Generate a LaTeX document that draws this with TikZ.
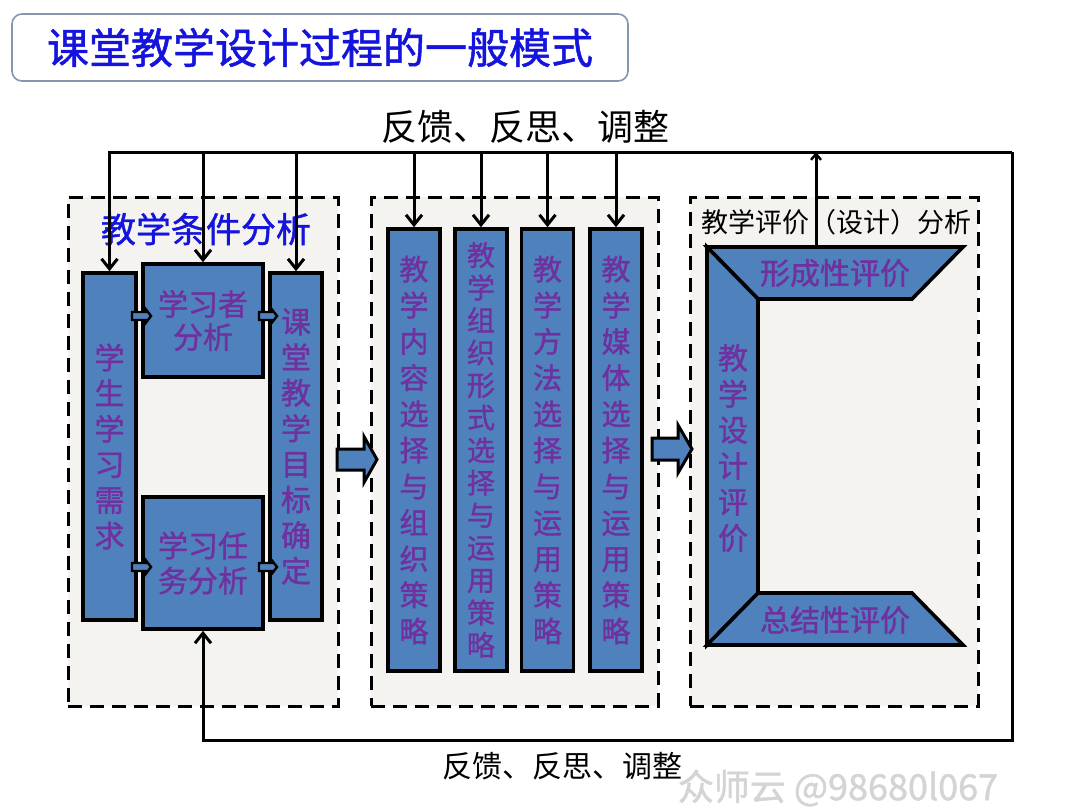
\documentclass[tikz,border=0pt]{standalone}
\usepackage{fontspec}
\setmainfont{Noto Sans CJK SC}
\newfontfamily\hb{Noto Sans CJK SC}[FakeBold=1.2]
\usetikzlibrary{arrows.meta,calc}
\definecolor{boxblue}{HTML}{4F81BD}
\definecolor{txtpurple}{HTML}{7030A0}
\definecolor{titleblue}{HTML}{1414DC}
\definecolor{panelbg}{HTML}{F4F3EF}
\definecolor{titleframe}{HTML}{8496B0}
\definecolor{wmgray}{HTML}{D4D4D4}
% block arrow: x start, x shaft end, x tip, y centre, shaft half-height, head half-height, line width
\newcommand\blockarrow[7]{\draw[draw=black, fill=boxblue, line width=#7, line join=miter]
  (#1,#4-#5) -- (#2,#4-#5) -- (#2,#4-#6) -- (#3,#4) -- (#2,#4+#6) -- (#2,#4+#5) -- (#1,#4+#5) -- cycle;}
\begin{document}
\begin{tikzpicture}[x=0.5pt,y=-0.5pt,
 panel/.style={draw=black, fill=panelbg, line width=1.5pt, dash pattern=on 7pt off 4pt, minimum height=254.5pt, inner sep=0pt},
 bluebox/.style={draw=black, fill=boxblue, line width=1.8pt, inner sep=0pt, align=center, text=txtpurple},
 vleft/.style={font=\hb\fontsize{15}{17.8}\selectfont},
 vmid/.style={font=\hb\fontsize{14.5}{18.1}\selectfont},
 vmidb/.style={font=\hb\fontsize{14}{16.25}\selectfont},
 fb/.style={line width=1.5pt},
 fbarrow/.style={fb, -{Straight Barb[length=5pt,width=8pt,line width=1.5pt]}},
 evframe/.style={draw=black, fill=boxblue, line width=1.8pt}
]
\useasboundingbox (0,0) rectangle (1080,810);
\fill[white] (0,0) rectangle (1080,810);

% title
\node[draw=titleframe, line width=0.8pt, rounded corners=5pt, fill=white, minimum width=308pt, minimum height=33.5pt, inner sep=0pt, font=\hb\fontsize{21}{21}\selectfont, text=titleblue] (title) at (320,47.5) {课堂教学设计过程的一般模式};

% panels
\node[panel, minimum width=135pt] (leftpanel) at (203,451.5) {};
\node[panel, minimum width=143.5pt] (midpanel) at (514.5,451.5) {};
\node[panel, minimum width=144pt] (evalpanel) at (834,451.5) {};

\node[text=titleblue, font=\hb\fontsize{17.5}{17.5}\selectfont] (lefttitle) at (206,229) {教学条件分析};
\node[font=\fontsize{13.5}{13.5}\selectfont] (evaltitle) at (836,222) {教学评价（设计）分析};

% left boxes
\node[bluebox, vleft, minimum width=26.5pt, minimum height=173.5pt] (need) at (109.5,446.5) {学\\生\\学\\习\\需\\求};
\node[bluebox, font=\hb\fontsize{15}{16.5}\selectfont, minimum width=60pt, minimum height=56.5pt] (learner) at (203,320.5) {学习者\\分析};
\node[bluebox, font=\hb\fontsize{15}{17.5}\selectfont, minimum width=60pt, minimum height=66pt] (task) at (203,563) {学习任\\务分析};
\node[bluebox, vleft, minimum width=26pt, minimum height=173.5pt] (goal) at (296,446.5) {课\\堂\\教\\学\\目\\标\\确\\定};

% middle columns
\node[bluebox, vmid, minimum width=26pt, minimum height=221pt] (col1) at (414,450) {教\\学\\内\\容\\选\\择\\与\\组\\织\\策\\略};
\node[bluebox, vmidb, minimum width=26pt, minimum height=221pt] (col2) at (481,450) {教\\学\\组\\织\\形\\式\\选\\择\\与\\运\\用\\策\\略};
\node[bluebox, vmid, minimum width=26pt, minimum height=221pt] (col3) at (547.5,450) {教\\学\\方\\法\\选\\择\\与\\运\\用\\策\\略};
\node[bluebox, vmid, minimum width=26pt, minimum height=221pt] (col4) at (616,450) {教\\学\\媒\\体\\选\\择\\与\\运\\用\\策\\略};

% evaluation frame
\draw[evframe] (707,247) -- (963,247) -- (912,299) -- (758,299) -- cycle;
\draw[evframe] (707,247) -- (758,299) -- (758,593) -- (707,645) -- cycle;
\draw[evframe] (758,593) -- (912,593) -- (963,645) -- (707,645) -- cycle;
\node[text=txtpurple, font=\hb\fontsize{15}{15}\selectfont] (formative) at (835,273) {形成性评价};
\node[text=txtpurple, font=\hb\fontsize{15}{15}\selectfont] (summative) at (835,620) {总结性评价};
\node[text=txtpurple, align=center, font=\hb\fontsize{15}{18}\selectfont] (designeval) at (733,448) {教\\学\\设\\计\\评\\价};
\coordinate (evtop) at (816,247);

% small block arrows between left boxes
\blockarrow{132}{146}{151}{316}{4}{6.5}{1.2pt}
\blockarrow{259}{272}{277}{316}{4}{6.5}{1.2pt}
\blockarrow{132}{146}{151}{567}{4}{6.5}{1.2pt}
\blockarrow{259}{272}{277}{567}{4}{6.5}{1.2pt}

% big block arrows between panels
\blockarrow{337}{364}{377}{459.5}{10.5}{23}{1.5pt}
\blockarrow{652}{678}{692}{449}{11}{24}{1.5pt}

% feedback loop
\coordinate (tr) at (1012,152);
\coordinate (br) at (1012,740);
\coordinate (bl) at (203,740);
\draw[fbarrow] (tr) -- (need.north |- tr) -- (need.north);
\draw[fbarrow] (tr) -- (br) -- (bl) -- (task.south);
\draw[fbarrow] (learner.north |- tr) -- (learner.north);
\draw[fbarrow] (goal.north |- tr) -- (goal.north);
\draw[fbarrow] (col1.north |- tr) -- (col1.north);
\draw[fbarrow] (col2.north |- tr) -- (col2.north);
\draw[fbarrow] (col3.north |- tr) -- (col3.north);
\draw[fbarrow] (col4.north |- tr) -- (col4.north);
\draw[fb, -{Straight Barb[length=3pt,width=5pt,line width=1.2pt]}] (evtop) -- (evtop |- tr);

% labels
\node[font=\fontsize{18}{18}\selectfont] (fbtop) at (525,127) {反馈、反思、调整};
\node[font=\fontsize{15}{15}\selectfont] (fbbottom) at (562,766) {反馈、反思、调整};
\node[text=wmgray, font=\hb\fontsize{18}{18}\selectfont] (wm) at (838,788) {众师云 @98680l067};
\end{tikzpicture}
\end{document}
